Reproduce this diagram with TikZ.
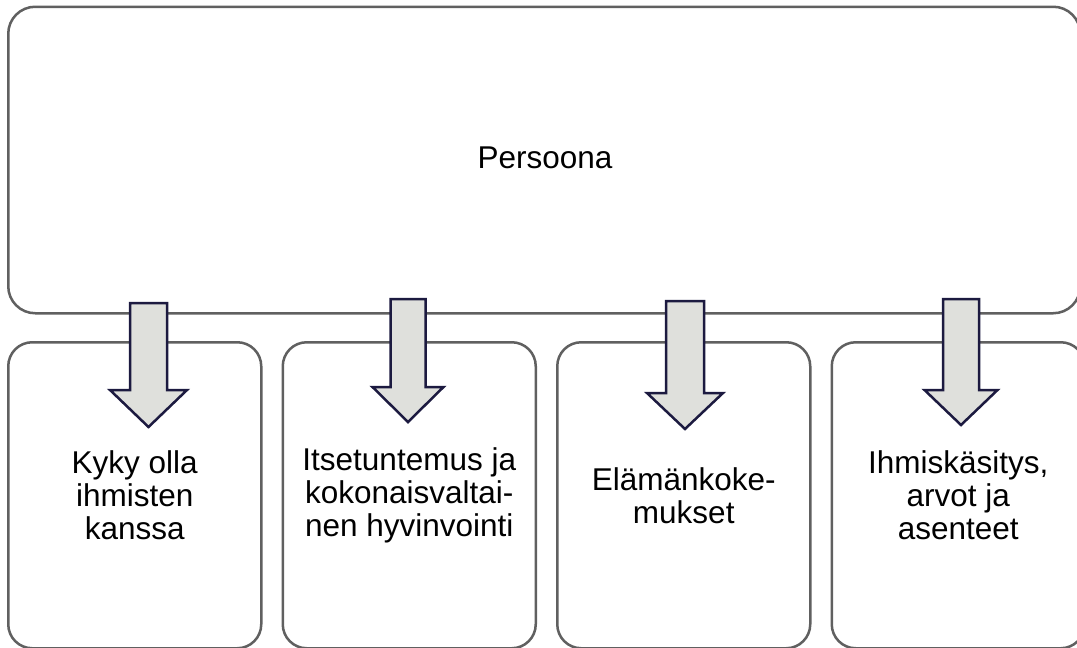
\documentclass[tikz,border=0pt]{standalone}
\usepackage{fontspec}
\setmainfont{Liberation Sans}
\definecolor{boxline}{HTML}{606060}
\definecolor{arrline}{HTML}{1C1A40}
\definecolor{arrfill}{HTML}{DFE0DC}
\begin{document}
\begin{tikzpicture}[x=1pt,y=-1pt,
  box/.style={draw=boxline, line width=2.5pt, rounded corners=24pt, fill=white,
    anchor=north west, align=center, inner sep=0pt,
    font=\fontsize{31.5}{33}\selectfont},
  bigbox/.style={box, rounded corners=27pt},
  blockarrow/.style={draw=arrline, fill=arrfill, line width=2.5pt, line join=miter}]
\useasboundingbox (0,0) rectangle (1077,648);
\node[bigbox, minimum width=1072pt, minimum height=306.5pt] (persoona) at (7,5.5) {};
\node at (545,158) {\fontsize{31.5}{33}\selectfont Persoona};
\node[box, minimum width=253pt, minimum height=306pt] (b1) at (7,341) {Kyky olla\\ihmisten\\kanssa};
\node[box, minimum width=253pt, minimum height=306pt] (b2) at (281.5,341) {Itsetuntemus ja\\kokonaisvaltai-\\nen hyvinvointi};
\node[box, minimum width=253pt, minimum height=306pt] (b3) at (556,341) {Elämänkoke-\\mukset};
\node[box, minimum width=253pt, minimum height=306pt] (b4) at (830.5,341) {Ihmiskäsitys,\\arvot ja\\asenteet};
\foreach \cx/\top/\ht/\tip/\sw/\hw in {148.5/303/390/427/18.5/38.5, 408/299/387/422/17.5/35.5, 685/301/393/429/19/38, 961/299/390/425/18/36.5}{
  \draw[blockarrow] (\cx-\sw,\top) -- (\cx+\sw,\top) -- (\cx+\sw,\ht) -- (\cx+\hw,\ht)
    -- (\cx,\tip) -- (\cx-\hw,\ht) -- (\cx-\sw,\ht) -- cycle;
}
\end{tikzpicture}
\end{document}
